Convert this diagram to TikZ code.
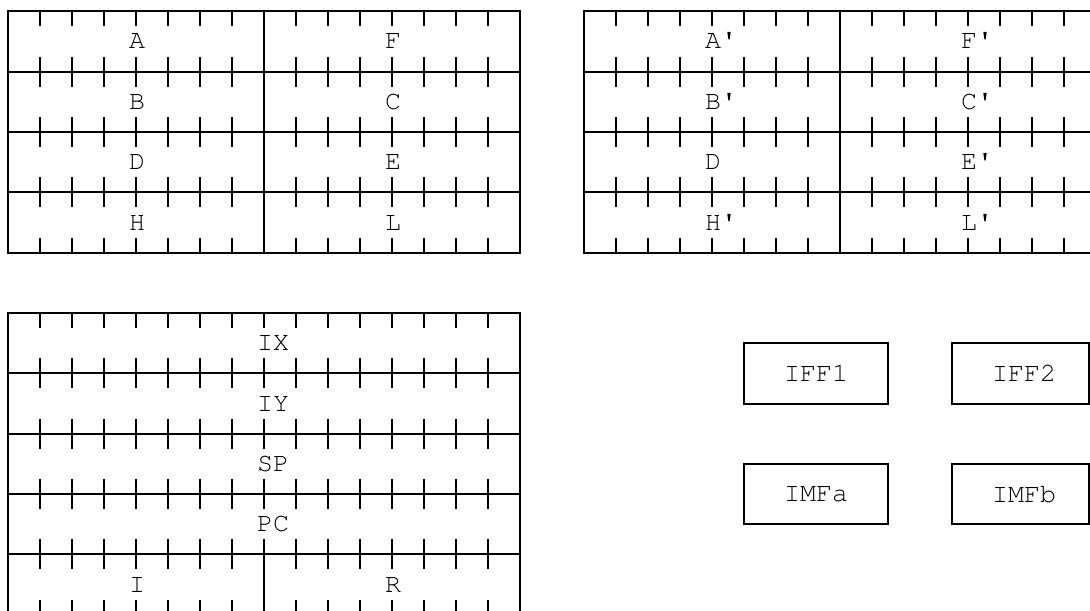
\documentclass[tikz,border=0pt]{standalone}
\usepackage[T1]{fontenc}
\usepackage{courier}
\begin{document}
\begin{tikzpicture}[x=0.75pt,y=-22.6275pt, line width=1.5pt,
  lbl/.style={font=\ttfamily\fontsize{20}{24}\selectfont, inner sep=0pt, anchor=base west},
  flag/.style={draw, line width=1.5pt, minimum width=108pt, minimum height=45.26pt, inner sep=0pt, font=\ttfamily\fontsize{20}{24}\selectfont},
  flagr/.style={flag, minimum width=102.75pt}]
\useasboundingbox (0,-0.3745) rectangle (1090,19.845);
\clip (0,-0.3745) rectangle (1090,19.845);

% ---- main register set and alternate set ----
\foreach \sx in {0,576}{
  \begin{scope}[shift={(\sx,0)}]
    \draw (8,0) rectangle (520,8);
    \foreach \r in {2,4,6} \draw (8,\r) -- (520,\r);
    \draw (264,0) -- (264,8);
    \foreach \k in {0,1,2,3,4,5,6,8,9,10,11,12,13,14}{
      \draw ({40+32*\k},0) -- ++(0,0.5);
      \foreach \r in {2,4,6} \draw ({40+32*\k},\r-0.5) -- ++(0,1);
      \draw ({40+32*\k},8) -- ++(0,-0.5);
    }
  \end{scope}
}

% ---- special purpose registers ----
\draw (8,10) rectangle (520,20);
\foreach \r in {12,14,16,18} \draw (8,\r) -- (520,\r);
\draw (264,18) -- (264,20);
\foreach \k in {0,...,14}{
  \draw ({40+32*\k},10) -- ++(0,0.5);
  \foreach \r in {12,14,16,18} \draw ({40+32*\k},\r-0.5) -- ++(0,1);
  \draw ({40+32*\k},20) -- ++(0,-0.5);
}

% ---- labels ----
\node[lbl] (lA) at (128,1.249) {A};
\node[lbl] (lF) at (384,1.249) {F};
\node[lbl] (lB) at (128,3.249) {B};
\node[lbl] (lC) at (384,3.249) {C};
\node[lbl] (lD) at (128,5.249) {D};
\node[lbl] (lE) at (384,5.249) {E};
\node[lbl] (lH) at (128,7.249) {H};
\node[lbl] (lL) at (384,7.249) {L};

\node[lbl] (lA2) at (704,1.249) {A\textquotesingle};
\node[lbl] (lF2) at (960,1.249) {F\textquotesingle};
\node[lbl] (lB2) at (704,3.249) {B\textquotesingle};
\node[lbl] (lC2) at (960,3.249) {C\textquotesingle};
\node[lbl] (lD2) at (704,5.249) {D};
\node[lbl] (lE2) at (960,5.249) {E\textquotesingle};
\node[lbl] (lH2) at (704,7.249) {H\textquotesingle};
\node[lbl] (lL2) at (960,7.249) {L\textquotesingle};

\node[lbl] (lIX) at (256,11.249) {IX};
\node[lbl] (lIY) at (256,13.249) {IY};
\node[lbl] (lSP) at (256,15.249) {SP};
\node[lbl] (lPC) at (256,17.249) {PC};
\node[lbl] (lI) at (128,19.249) {I};
\node[lbl] (lR) at (384,19.249) {R};

% ---- flip-flops ----
\node[flag] (iff1) at (816,12) {IFF1};
\node[flagr] (iff2) at (1020.5,12) {\hspace*{5.25pt}IFF2};
\node[flag] (imfa) at (816,16) {IMFa};
\node[flagr] (imfb) at (1020.5,16) {\hspace*{5.25pt}IMFb};
\end{tikzpicture}
\end{document}
